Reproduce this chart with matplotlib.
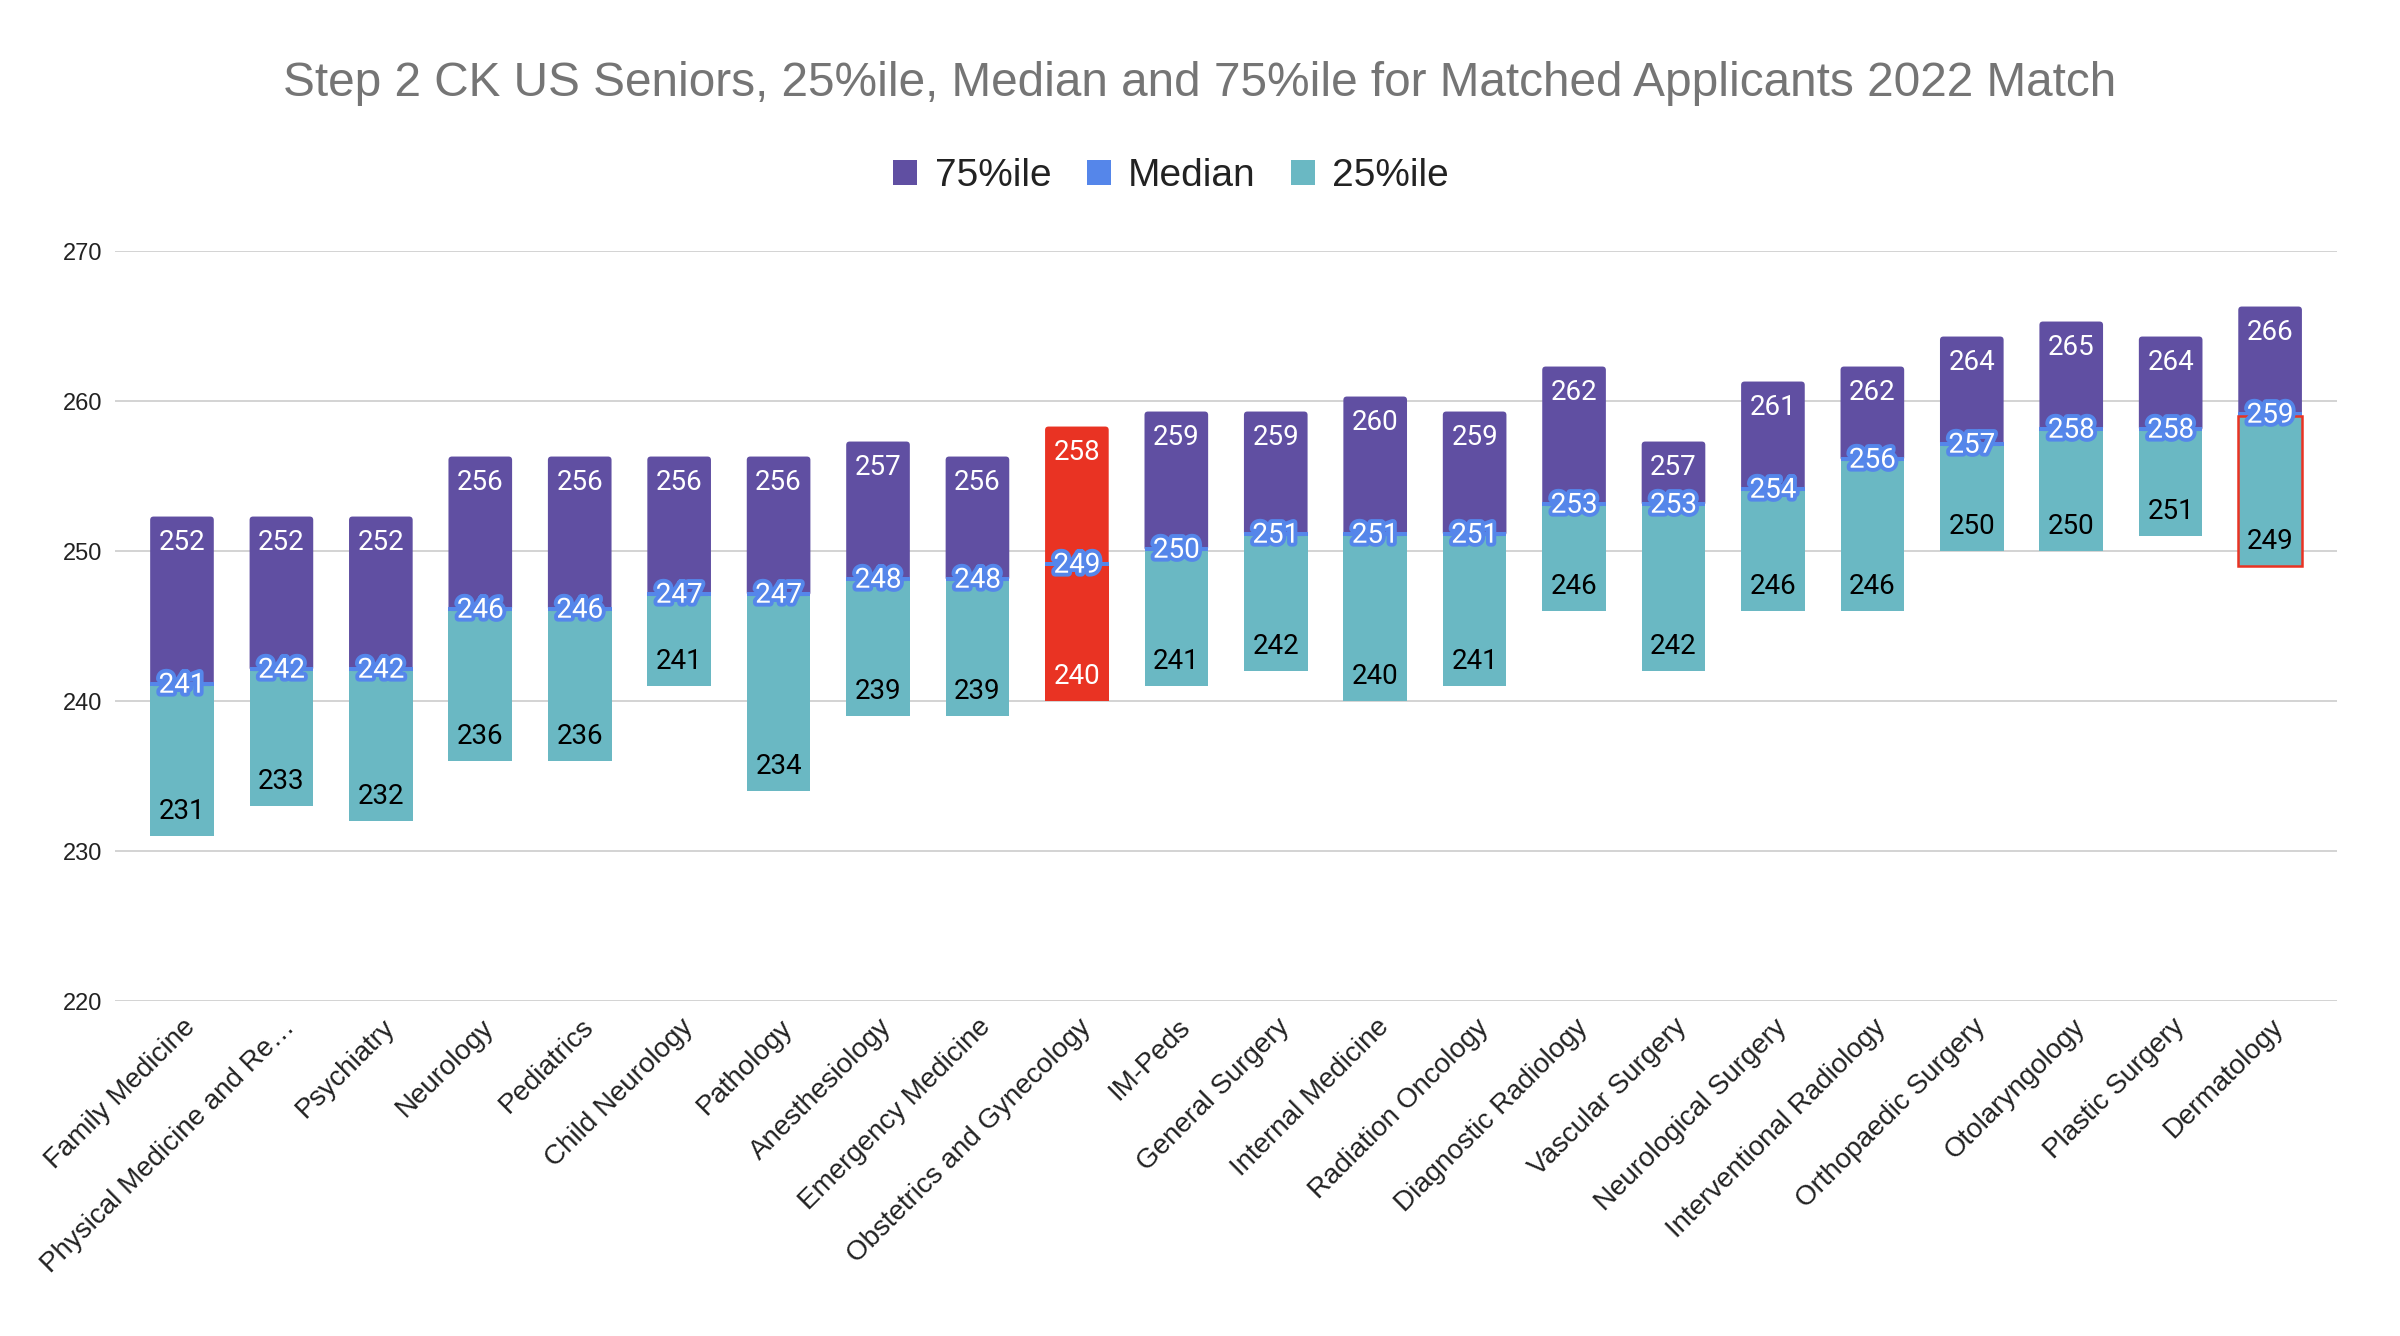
import matplotlib
matplotlib.use("Agg")
import matplotlib.pyplot as plt
import matplotlib.patheffects as pe
import matplotlib.transforms as mtransforms
from matplotlib.patches import Patch, FancyBboxPatch
import numpy as np

# Step 2 CK scores, US seniors, matched applicants 2022
specialties = [
    "Family Medicine", "Physical Medicine and Re\u2026", "Psychiatry", "Neurology",
    "Pediatrics", "Child Neurology", "Pathology", "Anesthesiology",
    "Emergency Medicine", "Obstetrics and Gynecology", "IM-Peds", "General Surgery",
    "Internal Medicine", "Radiation Oncology", "Diagnostic Radiology", "Vascular Surgery",
    "Neurological Surgery", "Interventional Radiology", "Orthopaedic Surgery",
    "Otolaryngology", "Plastic Surgery", "Dermatology",
]
p25 = [231, 233, 232, 236, 236, 241, 234, 239, 239, 240, 241,
       242, 240, 241, 246, 242, 246, 246, 250, 250, 251, 249]
median = [241, 242, 242, 246, 246, 247, 247, 248, 248, 249, 250,
          251, 251, 251, 253, 253, 254, 256, 257, 258, 258, 259]
p75 = [252, 252, 252, 256, 256, 256, 256, 257, 256, 258, 259,
       259, 260, 259, 262, 257, 261, 262, 264, 265, 264, 266]

title = "Step 2 CK US Seniors, 25%ile, Median and 75%ile for Matched Applicants 2022 Match"

PURPLE = "#604fa2"
BLUE = "#5586ea"
TEAL = "#6ab8c3"
RED = "#e93323"

plt.rcParams['font.family'] = ['Liberation Sans', 'DejaVu Sans']

fig = plt.figure(figsize=(12, 6.68), dpi=200)
ax = fig.add_axes([0.0479, 0.2507, 0.9259, 0.5614])

x = np.arange(len(specialties))
lo = np.array(p25)
mid = np.array(median)
hi = np.array(p75)
red_idx = specialties.index("Obstetrics and Gynecology")
edge_idx = specialties.index("Dermatology")

band = 0.3  # thickness of the median marker
w = 0.64
low_cols = [RED if i == red_idx else TEAL for i in x]
up_cols = [RED if i == red_idx else PURPLE for i in x]

ax.set_xlim(-0.674, len(specialties) - 1 + 0.674)
ax.set_ylim(220, 270)

low_bars = ax.bar(x, mid - lo, bottom=lo, width=w, color=low_cols, zorder=2)
ax.bar(x, band, bottom=mid, width=w, color=BLUE, zorder=3)
up_bars = ax.bar(x, hi - mid + band, bottom=mid, width=w, color=up_cols, zorder=2)
ax.bar(x[edge_idx], mid[edge_idx] - lo[edge_idx], bottom=lo[edge_idx], width=w,
       fill=False, edgecolor=RED, linewidth=0.9, zorder=4)

# swap the upper bars for versions with slightly rounded corners
asp = 6.6  # y units per x unit on screen
for rect, c in zip(up_bars, up_cols):
    rect.set_visible(False)
    ax.add_patch(FancyBboxPatch((rect.get_x(), rect.get_y()), rect.get_width(), rect.get_height(),
                                boxstyle="round,pad=0,rounding_size=0.035", mutation_aspect=asp,
                                facecolor=c, edgecolor='none', zorder=2))

lab_kw = dict(textcoords='offset points', ha='center', va='baseline',
              fontsize=10, family=['Roboto', 'DejaVu Sans'], zorder=6)
for i, (rl, ru) in enumerate(zip(low_bars, up_bars)):
    top = ru.get_y() + ru.get_height()
    ax.annotate(str(hi[i]), (i, top), xytext=(0, -12.2), color='white', **lab_kw)
    ax.annotate(str(mid[i]), (i, mid[i]), xytext=(0, -2.4), color='white',
                path_effects=[pe.withStroke(linewidth=2.8, foreground=BLUE)], **lab_kw)
    ax.annotate(str(lo[i]), (i, rl.get_y()), xytext=(0, 6.1),
                color='white' if i == red_idx else 'black', **lab_kw)

ax.set_yticks(range(220, 271, 10))
ax.yaxis.grid(True, color='#cccccc', linewidth=0.6)
ax.set_axisbelow(True)
for s in ax.spines.values():
    s.set_visible(False)
ax.tick_params(axis='y', length=0, pad=4.7, labelsize=8.5, labelcolor='#222222')
ax.tick_params(axis='x', length=0, pad=8, labelsize=10, labelcolor='#222222')
ax.set_xticks(x)
ax.set_xticklabels(specialties, rotation=45, ha='right', rotation_mode='anchor', va='center')
shift = mtransforms.ScaledTranslation(3.5 / 72, 0, fig.dpi_scale_trans)
for t in ax.get_xticklabels():
    t.set_transform(t.get_transform() + shift)

fig.text(0.5, 1 - 84 / 1336, title, ha='center', va='center', fontsize=17.2, color='#757575')

handles = [Patch(facecolor=PURPLE), Patch(facecolor=BLUE), Patch(facecolor=TEAL)]
fig.legend(handles, ["75%ile", "Median", "25%ile"], loc='center',
           bbox_to_anchor=(0.488, 1 - 176 / 1336), ncol=3, frameon=False, fontsize=14,
           handlelength=0.62, handleheight=0.62, handletextpad=0.45, columnspacing=0.9,
           labelcolor='#222222')

fig.savefig("out.png", dpi=200)
